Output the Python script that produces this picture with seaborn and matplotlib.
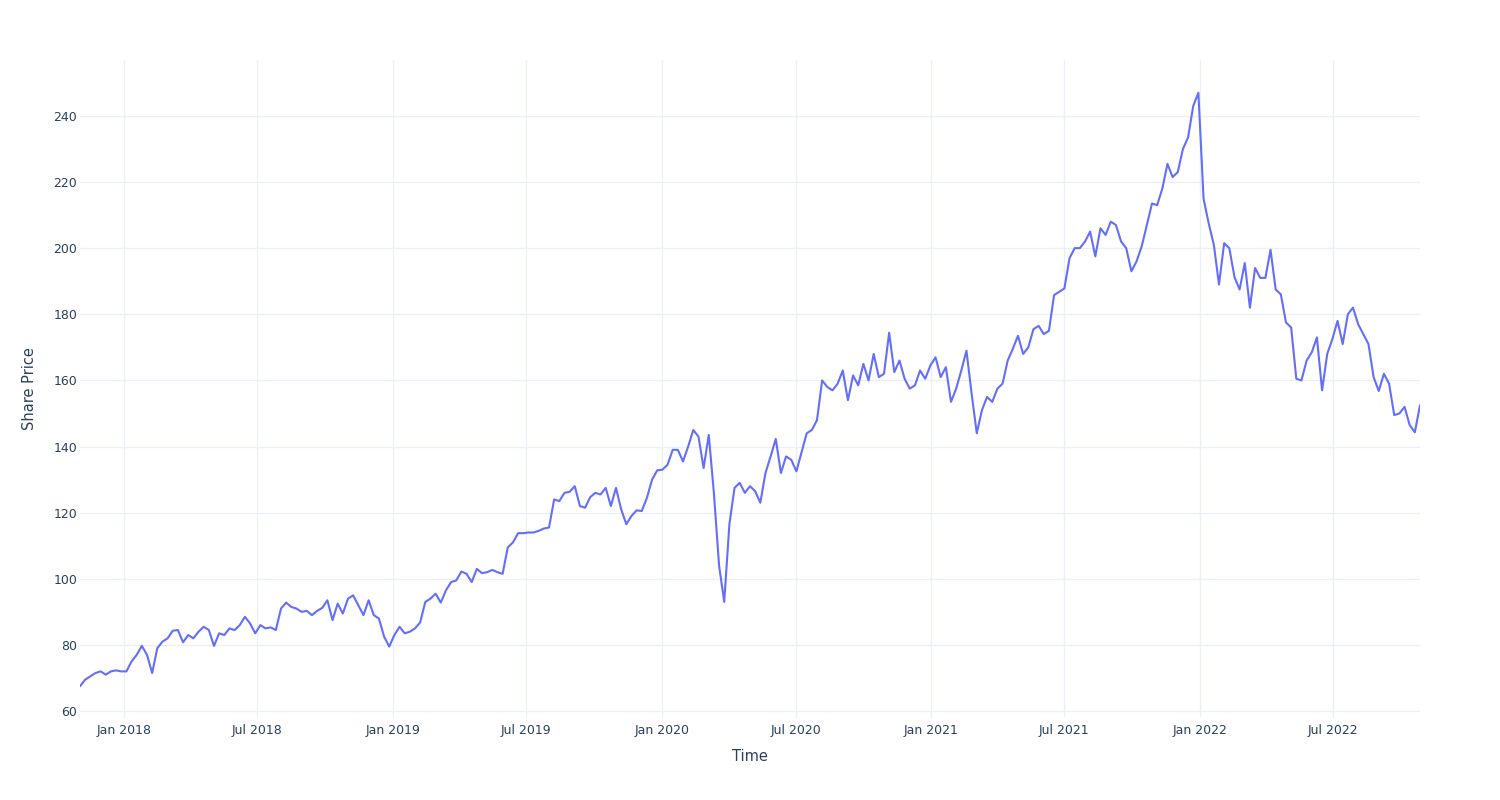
import matplotlib
matplotlib.use("Agg")
import matplotlib.pyplot as plt
import matplotlib.dates as mdates
import pandas as pd
import seaborn as sns

# Weekly closing share price, starting 2017-11-02
start_date = "2017-11-02"
price = [
    67.5, 69.5, 70.5, 71.5, 72.0, 71.0, 72.0, 72.3, 72.0, 72.0,
    75.0, 77.0, 79.7, 77.0, 71.5, 79.0, 81.0, 82.0, 84.3, 84.5,
    80.8, 83.0, 82.0, 84.0, 85.5, 84.5, 79.7, 83.5, 83.0, 85.0,
    84.5, 86.0, 88.5, 86.5, 83.5, 86.0, 85.0, 85.3, 84.5, 91.0,
    92.8, 91.5, 91.0, 90.0, 90.3, 89.0, 90.3, 91.2, 93.5, 87.5,
    92.5, 89.5, 94.0, 95.0, 92.0, 89.0, 93.5, 89.0, 88.0, 82.5,
    79.5, 83.0, 85.5, 83.5, 84.0, 85.0, 86.8, 93.0, 94.0, 95.5,
    92.8, 96.5, 99.0, 99.5, 102.2, 101.5, 99.0, 103.0, 101.7, 102.0,
    102.7, 102.0, 101.5, 109.5, 111.0, 113.8, 113.8, 114.0, 114.0, 114.5,
    115.2, 115.5, 124.0, 123.5, 126.0, 126.3, 128.0, 122.0, 121.5, 124.7,
    126.0, 125.5, 127.5, 122.0, 127.5, 121.0, 116.5, 119.0, 120.7, 120.5,
    124.5, 130.0, 132.8, 133.0, 134.5, 139.0, 139.0, 135.5, 140.0, 145.0,
    143.0, 133.5, 143.5, 125.8, 104.0, 93.0, 116.5, 127.5, 129.0, 126.0,
    128.0, 126.5, 123.0, 132.0, 137.0, 142.3, 132.0, 137.0, 136.0, 132.5,
    138.3, 144.0, 145.0, 148.0, 160.0, 158.0, 157.0, 159.0, 163.0, 154.0,
    161.5, 158.5, 165.0, 160.0, 168.0, 161.0, 162.0, 174.4, 162.5, 166.0,
    160.5, 157.5, 158.5, 163.0, 160.5, 164.5, 167.0, 161.0, 164.0, 153.5,
    157.5, 163.0, 169.0, 156.0, 144.0, 151.0, 155.0, 153.5, 157.5, 159.0,
    166.0, 169.6, 173.5, 168.0, 170.0, 175.5, 176.5, 174.0, 175.0, 185.8,
    186.8, 187.8, 197.0, 200.0, 200.0, 202.0, 205.0, 197.5, 206.0, 204.0,
    208.0, 207.0, 202.0, 200.0, 193.0, 196.0, 200.5, 207.0, 213.5, 213.0,
    218.0, 225.5, 221.5, 223.0, 230.0, 233.5, 243.0, 247.0, 215.0, 207.5,
    201.0, 189.0, 201.5, 200.0, 191.3, 187.5, 195.5, 182.0, 194.0, 191.0,
    191.0, 199.5, 187.5, 186.0, 177.5, 176.0, 160.5, 160.0, 166.0, 168.5,
    173.0, 157.0, 168.0, 172.5, 178.0, 171.0, 180.0, 182.0, 177.0, 174.0,
    171.0, 161.0, 156.8, 162.0, 159.0, 149.5, 150.0, 152.0, 146.5, 144.3,
    152.5,
]
y_ticks = [60, 80, 100, 120, 140, 160, 180, 200, 220, 240]
x_ticks = ["2018-01-01", "2018-07-01", "2019-01-01", "2019-07-01", "2020-01-01",
           "2020-07-01", "2021-01-01", "2021-07-01", "2022-01-01", "2022-07-01"]

dates = pd.date_range(start_date, periods=len(price), freq="7D")
df = pd.DataFrame({"Time": dates, "Share Price": price})

sns.set_theme(style="white")
plt.rcParams["font.family"] = ["DejaVu Sans"]

fig = plt.figure(figsize=(15, 8), dpi=100)
ax = fig.add_axes([80 / 1500, 82 / 800, 1340 / 1500, 658 / 800])
sns.lineplot(data=df, x="Time", y="Share Price", color="#636efa",
             linewidth=1.5, ax=ax)

ax.set_xlim(dates[0], dates[-1])
ax.set_ylim(57.9, 256.9)
ax.set_yticks(y_ticks)
ax.set_xticks(pd.to_datetime(x_ticks))
ax.xaxis.set_major_formatter(mdates.DateFormatter("%b %Y"))

ax.set_axisbelow(True)
ax.grid(True, color="#ebf0f8", linewidth=1)
for s in ax.spines.values():
    s.set_visible(False)
ax.tick_params(axis="both", length=0, colors="#2a3f5f", labelsize=9)
ax.tick_params(axis="x", pad=4)
ax.tick_params(axis="y", pad=2)
ax.set_xlabel("Time", fontsize=10.5, color="#2a3f5f", labelpad=9)
ax.set_ylabel("Share Price", fontsize=10.5, color="#2a3f5f", labelpad=12)

fig.savefig("out.png", dpi=100)
